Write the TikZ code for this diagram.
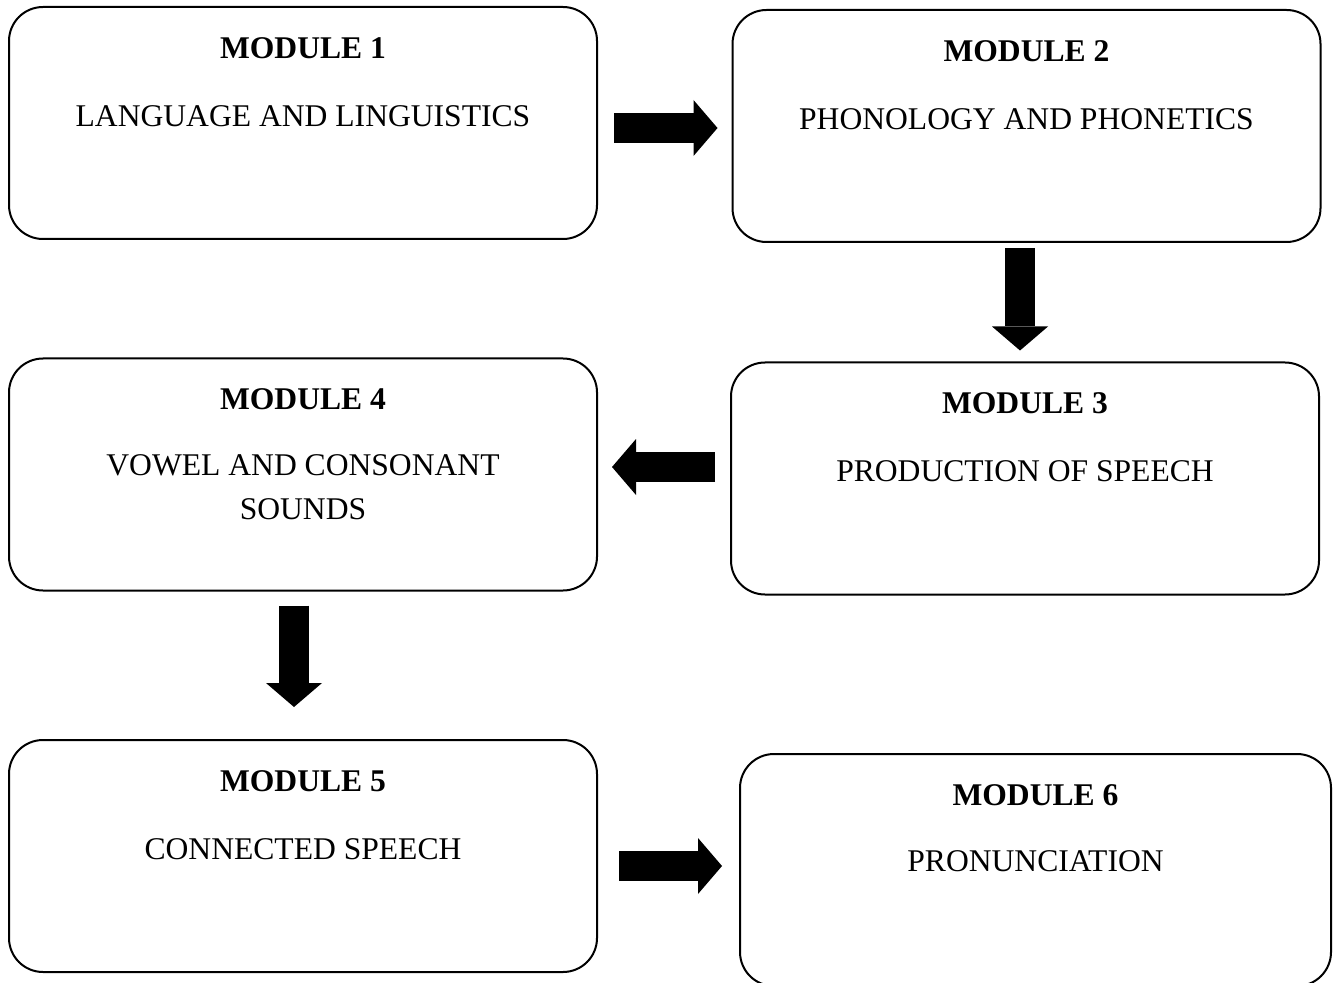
\documentclass[tikz,border=0pt]{standalone}
\usepackage{fontspec}
\setmainfont{Liberation Serif}
\usetikzlibrary{arrows.meta,calc}
\tikzset{%
	modbox/.style   = {draw, line width=1pt, rectangle, rounded corners=17pt,
		minimum width=294pt, minimum height=116pt, inner sep=0pt},
	modtitle/.style = {font=\fontsize{15.8}{19}\selectfont\bfseries},
	modtext/.style  = {font=\fontsize{15.8}{22}\selectfont, align=center},
	bigarrow/.style = {line width=15pt, -{Triangle[length=12pt, width=28pt, line width=0pt]}} % block arrow
}

\begin{document}
\begin{tikzpicture}[x=0.5pt, y=-0.5pt]
	\useasboundingbox (0,0) rectangle (1336,983);

	\node[modbox] (m1) at (303,123)    {};
	\node[modbox] (m2) at (1026.5,126) {};
	\node[modbox] (m3) at (1025,478.5) {};
	\node[modbox] (m4) at (303,474.5)  {};
	\node[modbox] (m5) at (303,856)    {};
	\node[modbox, minimum width=295.5pt] (m6) at (1035.5,870) {};

	\node[modtitle] (t1) at ([yshift=-21pt]m1.north) {MODULE 1};
	\node[modtext]  (s1) at ([yshift=-55pt]m1.north) {LANGUAGE AND LINGUISTICS};
	\node[modtitle] (t2) at ([yshift=-21pt]m2.north) {MODULE 2};
	\node[modtext]  (s2) at ([yshift=-55pt]m2.north) {PHONOLOGY AND PHONETICS};
	\node[modtitle] (t3) at ([yshift=-21pt]m3.north) {MODULE 3};
	\node[modtext]  (s3) at ([yshift=-55pt]m3.north) {PRODUCTION OF SPEECH};
	\node[modtitle] (t4) at ([yshift=-21pt]m4.north) {MODULE 4};
	\node[modtext]  (s4) at ([yshift=-65pt]m4.north) {VOWEL AND CONSONANT\\SOUNDS};
	\node[modtitle] (t5) at ([yshift=-21pt]m5.north) {MODULE 5};
	\node[modtext]  (s5) at ([yshift=-55pt]m5.north) {CONNECTED SPEECH};
	\node[modtitle] (t6) at ([yshift=-21pt]m6.north) {MODULE 6};
	\node[modtext]  (s6) at ([yshift=-54pt]m6.north) {PRONUNCIATION};

	\draw[bigarrow] ($(m1.east)+(16,5)$)     -- ($(m2.west)+(-14,2)$);
	\draw[bigarrow] ($(m2.south)+(-6.5,5)$)  -- ($(m3.north)+(-5,-11)$);
	\draw[bigarrow] ($(m3.west)+(-15,-11.5)$) -- ($(m4.east)+(14,-7.5)$);
	\draw[bigarrow] ($(m4.south)+(-9,14)$)   -- ($(m5.north)+(-9,-32)$);
	\draw[bigarrow] ($(m5.east)+(21,10)$)    -- ($(m6.west)+(-17,-4)$);
\end{tikzpicture}
\end{document}
